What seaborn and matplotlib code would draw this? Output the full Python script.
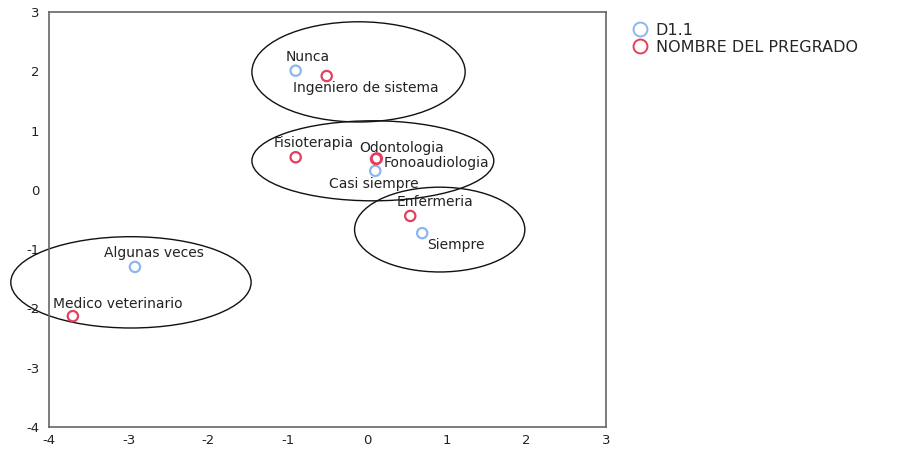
import matplotlib
matplotlib.use("Agg")
import matplotlib.pyplot as plt
from matplotlib.patches import Ellipse
from matplotlib.lines import Line2D
import seaborn as sns
import pandas as pd

sns.set_style("white")
plt.rcParams["font.family"] = ["DejaVu Sans"]
plt.rcParams["axes.unicode_minus"] = False

# Category points (dimension 1, dimension 2) for both variables
labels = ["Nunca", "Casi siempre", "Siempre", "Algunas veces",
          "Ingeniero de sistema", "Fisioterapia", "Odontologia",
          "Fonoaudiologia", "Enfermeria", "Medico veterinario"]
dim1 = [-0.90, 0.10, 0.69, -2.92, -0.51, -0.90, 0.11, 0.12, 0.54, -3.70]
dim2 = [2.01, 0.32, -0.73, -1.30, 1.92, 0.55, 0.52, 0.53, -0.44, -2.13]
variable = ["D1.1"] * 4 + ["NOMBRE DEL PREGRADO"] * 6

# Label offsets (points) relative to each marker
label_dx = [8.6, -0.7, 24.5, 13.7, 28.0, 13.0, 18.7, 43.0, 18.0, 32.4]
label_dy = [10.1, -9.4, -8.6, 10.0, -8.6, 10.0, 8.0, -3.0, 10.0, 8.6]

# Group ellipses: centre x, centre y, width, height
ell_cx = [-0.11, 0.07, 0.91, -2.97]
ell_cy = [1.99, 0.49, -0.67, -1.56]
ell_w = [2.68, 3.04, 2.14, 3.02]
ell_h = [1.69, 1.35, 1.43, 1.54]

series_names = ["D1.1", "NOMBRE DEL PREGRADO"]
series_colors = ["#8cb6ee", "#e2405c"]

df = pd.DataFrame({"label": labels, "x": dim1, "y": dim2, "var": variable})

fig = plt.figure(figsize=(9.19, 4.49), dpi=100)
ax = fig.add_axes([49 / 919, 22 / 449, 557 / 919, 415 / 449])

sns.scatterplot(data=df, x="x", y="y", hue="var", hue_order=series_names,
                palette=series_colors, marker="o", s=55,
                linewidth=1.6, legend=False, ax=ax, zorder=3)
# hollow markers with coloured edges
coll = ax.collections[0]
cmap = dict(zip(series_names, series_colors))
coll.set_edgecolors([cmap[v] for v in df["var"]])
coll.set_facecolors("none")

for lab, x, y, dx, dy in zip(labels, dim1, dim2, label_dx, label_dy):
    ax.annotate(lab, (x, y), xytext=(dx, dy), textcoords="offset points",
                ha="center", va="center", fontsize=10, color="#222222",
                zorder=4)

for cx, cy, w, h in zip(ell_cx, ell_cy, ell_w, ell_h):
    ax.add_patch(Ellipse((cx, cy), w, h, fill=False, edgecolor="#111111",
                         linewidth=1.0, clip_on=False, zorder=2))

ax.set_xlim(-4, 3)
ax.set_ylim(-4, 3)
ax.set_xticks(range(-4, 4))
ax.set_yticks(range(-4, 4))
ax.set_xlabel("")
ax.set_ylabel("")
ax.tick_params(axis="both", length=0, labelsize=9.5, colors="#222222")
ax.tick_params(axis="x", pad=5)
ax.tick_params(axis="y", pad=7)
for sp in ax.spines.values():
    sp.set_visible(True)
    sp.set_color("#666666")
    sp.set_linewidth(1.2)

handles = [Line2D([], [], linestyle="none", marker="o", markersize=10,
                  markerfacecolor="none", markeredgecolor=c,
                  markeredgewidth=1.4) for c in series_colors]
fig.legend(handles, series_names, loc="upper left",
           bbox_to_anchor=(634 / 919, 1 - 23 / 449), frameon=False,
           fontsize=11.5, handlelength=0.8, handletextpad=0.55,
           labelspacing=0.12, borderaxespad=0, borderpad=0)

fig.savefig("out.png", dpi=100)
